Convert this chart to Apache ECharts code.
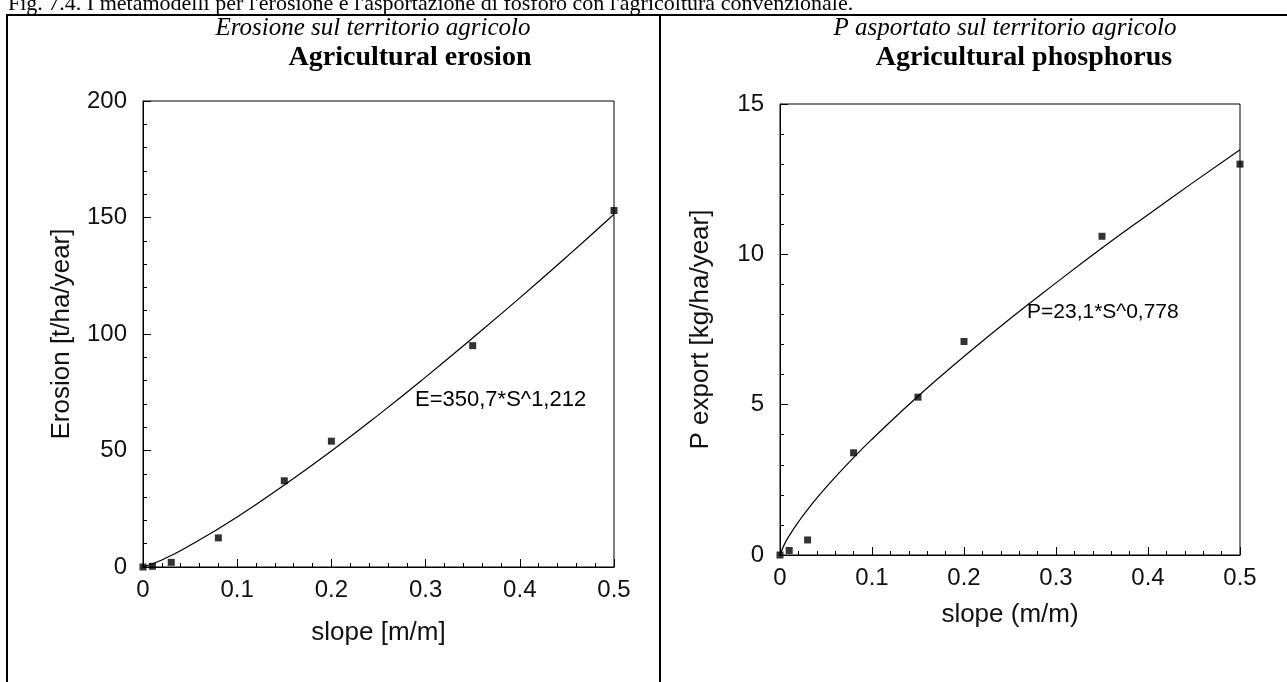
<!DOCTYPE html>
<html>
<head>
<meta charset="utf-8">
<script src="https://cdn.jsdelivr.net/npm/echarts@6/dist/echarts.min.js"></script>
<style>
  html, body { margin: 0; padding: 0; background: #fff; }
  #container { width: 1287px; height: 682px; }
</style>
</head>
<body>
<div id="container"></div>
<script>
// measured points (slope, value)
var erosionSlope = [0, 0.01, 0.03, 0.08, 0.15, 0.2, 0.35, 0.5];
var erosionValue = [0, 0.3, 2, 12.5, 37, 54, 95, 153];
var phosSlope = [0, 0.01, 0.03, 0.08, 0.15, 0.2, 0.35, 0.5];
var phosValue = [0, 0.15, 0.5, 3.4, 5.25, 7.1, 10.6, 13.0];

// fitted curves
var erosionFitX = [0, 0.02, 0.05, 0.1, 0.15, 0.2, 0.25, 0.3, 0.35, 0.4, 0.45, 0.5];
var erosionFitY = [0, 3, 9.3, 21.5, 35.2, 49.8, 65.3, 81.5, 98.3, 115.5, 133.2, 151.4];
var phosFitX = [0, 0.005, 0.01, 0.02, 0.03, 0.05, 0.08, 0.1, 0.15, 0.2, 0.25, 0.3, 0.35, 0.4, 0.45, 0.5];
var phosFitY = [0, 0.37, 0.64, 1.1, 1.51, 2.25, 3.24, 3.85, 5.28, 6.6, 7.86, 9.05, 10.21, 11.32, 12.41, 13.48];

function pairs(xs, ys) {
    return xs.map(function (x, i) { return [x, ys[i]]; });
}

var sans = 'Liberation Sans';

function xAx(gridIndex, name, gap) {
    return {
        gridIndex: gridIndex,
        type: 'value',
        min: 0, max: 0.5, interval: 0.1,
        name: name, nameLocation: 'middle', nameGap: gap,
        nameTextStyle: {fontFamily: sans, fontSize: 26, color: '#111'},
        axisLine: {lineStyle: {color: '#000', width: 1}},
        axisTick: {inside: true, length: 8, lineStyle: {color: '#000'}},
        minorTick: {show: true, splitNumber: 5, length: 4, lineStyle: {color: '#000'}},
        axisLabel: {fontFamily: sans, fontSize: 24, color: '#111', margin: 11},
        splitLine: {show: false}
    };
}

function yAx(gridIndex, max, interval, name, gap) {
    return {
        gridIndex: gridIndex,
        type: 'value',
        min: 0, max: max, interval: interval,
        name: name, nameLocation: 'middle', nameGap: gap,
        nameTextStyle: {fontFamily: sans, fontSize: 26, color: '#111'},
        axisLine: {lineStyle: {color: '#000', width: 1}},
        axisTick: {inside: true, length: 8, lineStyle: {color: '#000'}},
        minorTick: {show: true, splitNumber: 5, length: 4, lineStyle: {color: '#000'}},
        axisLabel: {fontFamily: sans, fontSize: 24, color: '#111', margin: 16},
        splitLine: {show: false}
    };
}

var dom = document.getElementById("container");
var myChart = echarts.init(dom);
option = {
    backgroundColor: '#fff',
    animation: false,
    grid: [
        {left: 143, right: 673, top: 101, bottom: 115, show: true, borderColor: '#000', borderWidth: 1},
        {left: 780, right: 47, top: 104, bottom: 127, show: true, borderColor: '#000', borderWidth: 1}
    ],
    xAxis: [
        xAx(0, 'slope [m/m]', 53),
        xAx(1, 'slope (m/m)', 47)
    ],
    yAxis: [
        yAx(0, 200, 50, 'Erosion [t/ha/year]', 68),
        yAx(1, 15, 5, 'P export [kg/ha/year]', 66)
    ],
    graphic: [
        // page frame
        {type: 'line', shape: {x1: 6, y1: 15, x2: 1287, y2: 15}, style: {stroke: '#000', lineWidth: 2}},
        {type: 'line', shape: {x1: 7, y1: 15, x2: 7, y2: 682}, style: {stroke: '#000', lineWidth: 2}},
        {type: 'line', shape: {x1: 660, y1: 15, x2: 660, y2: 682}, style: {stroke: '#000', lineWidth: 2}},
        // caption cut at top
        {type: 'text', x: 8, y: 15, style: {text: "Fig. 7.4. I metamodelli per l'erosione e l'asportazione di fosforo con l'agricoltura convenzionale.", font: '22px "Liberation Serif"', fill: '#000', textVerticalAlign: 'bottom'}},
        // panel titles
        {type: 'text', x: 373, y: 28, style: {text: 'Erosione sul territorio agricolo', font: 'italic 25px "Liberation Serif"', fill: '#000', textAlign: 'center', textVerticalAlign: 'middle'}},
        {type: 'text', x: 410, y: 58, style: {text: 'Agricultural erosion', font: 'bold 28px "Liberation Serif"', fill: '#000', textAlign: 'center', textVerticalAlign: 'middle'}},
        {type: 'text', x: 1005, y: 28, style: {text: 'P asportato sul territorio agricolo', font: 'italic 25px "Liberation Serif"', fill: '#000', textAlign: 'center', textVerticalAlign: 'middle'}},
        {type: 'text', x: 1024, y: 58, style: {text: 'Agricultural phosphorus', font: 'bold 28px "Liberation Serif"', fill: '#000', textAlign: 'center', textVerticalAlign: 'middle'}},
        // equations
        {type: 'text', x: 415, y: 400, style: {text: 'E=350,7*S^1,212', font: '22px "Liberation Sans"', fill: '#000', textVerticalAlign: 'middle'}},
        {type: 'text', x: 1027, y: 312, style: {text: 'P=23,1*S^0,778', font: '21px "Liberation Sans"', fill: '#000', textVerticalAlign: 'middle'}}
    ],
    series: [
        {
            type: 'line', xAxisIndex: 0, yAxisIndex: 0,
            data: pairs(erosionFitX, erosionFitY),
            smooth: true, showSymbol: false,
            lineStyle: {color: '#000', width: 1.2}
        },
        {
            type: 'scatter', xAxisIndex: 0, yAxisIndex: 0,
            data: pairs(erosionSlope, erosionValue),
            symbol: 'rect', symbolSize: 7,
            itemStyle: {color: '#000'}
        },
        {
            type: 'line', xAxisIndex: 1, yAxisIndex: 1,
            data: pairs(phosFitX, phosFitY),
            smooth: true, showSymbol: false,
            lineStyle: {color: '#000', width: 1.2}
        },
        {
            type: 'scatter', xAxisIndex: 1, yAxisIndex: 1,
            data: pairs(phosSlope, phosValue),
            symbol: 'rect', symbolSize: 7,
            itemStyle: {color: '#000'}
        }
    ]
};
if (option && typeof option === "object") {
    myChart.setOption(option, true);
}
</script>
</body>
</html>
